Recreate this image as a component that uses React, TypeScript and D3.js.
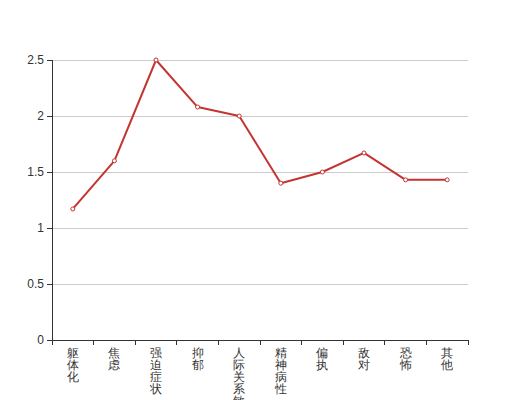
import React from "react";
import * as d3 from "d3";

const categories = ["躯体化", "焦虑", "强迫症状", "抑郁", "人际关系敏感", "精神病性", "偏执", "敌对", "恐怖", "其他"];
const values = [1.17, 1.6, 2.5, 2.08, 2.0, 1.4, 1.5, 1.67, 1.43, 1.43];
const yTicks = [0, 0.5, 1, 1.5, 2, 2.5];

const W = 520, H = 400;
const left = 52, right = 468, top = 60, bottom = 340;

export default function App() {
  const x = d3.scaleBand<string>().domain(categories).range([left, right]);
  const y = d3.scaleLinear().domain([0, 2.5]).range([bottom, top]);
  const line = d3.line<number>()
    .x((_, i) => (x(categories[i]) as number) + x.bandwidth() / 2)
    .y((d) => y(d));
  const font = "sans-serif";
  const boundaries = categories.map((c) => x(c) as number).concat([right]);
  return (
    <svg width={W} height={H} style={{ position: "absolute", left: 0, top: 0, background: "#fff" }}>
      {yTicks.map((t) => (
        <g key={t}>
          {t !== 0 && <line x1={left} x2={right} y1={y(t)} y2={y(t)} stroke="#ccc" strokeWidth={1} shapeRendering="crispEdges" />}
          <line x1={left - 5} x2={left} y1={y(t)} y2={y(t)} stroke="#333" strokeWidth={1} shapeRendering="crispEdges" />
          <text x={left - 8} y={y(t)} dy="0.35em" textAnchor="end" fontSize={12} fill="#333" fontFamily={font}>{t}</text>
        </g>
      ))}
      <line x1={left} x2={left} y1={top} y2={bottom} stroke="#333" strokeWidth={1} shapeRendering="crispEdges" />
      <line x1={left} x2={right} y1={bottom} y2={bottom} stroke="#333" strokeWidth={1} shapeRendering="crispEdges" />
      {boundaries.map((b, i) => (
        <line key={i} x1={b} x2={b} y1={bottom} y2={bottom + 5} stroke="#333" strokeWidth={1} shapeRendering="crispEdges" />
      ))}
      {categories.map((c) => {
        const cx = (x(c) as number) + x.bandwidth() / 2;
        return (
          <text key={c} x={cx} y={357} textAnchor="middle" fontSize={12} fill="#333" fontFamily={font}>
            {Array.from(c).map((ch, i) => (
              <tspan key={i} x={cx} dy={i === 0 ? 0 : 12}>{ch}</tspan>
            ))}
          </text>
        );
      })}
      <path d={line(values) || ""} fill="none" stroke="#c23531" strokeWidth={2} strokeLinejoin="bevel" />
      {values.map((v, i) => (
        <circle key={i} cx={(x(categories[i]) as number) + x.bandwidth() / 2} cy={y(v)} r={2} fill="#fff" stroke="#c23531" strokeWidth={1} />
      ))}
    </svg>
  );
}
